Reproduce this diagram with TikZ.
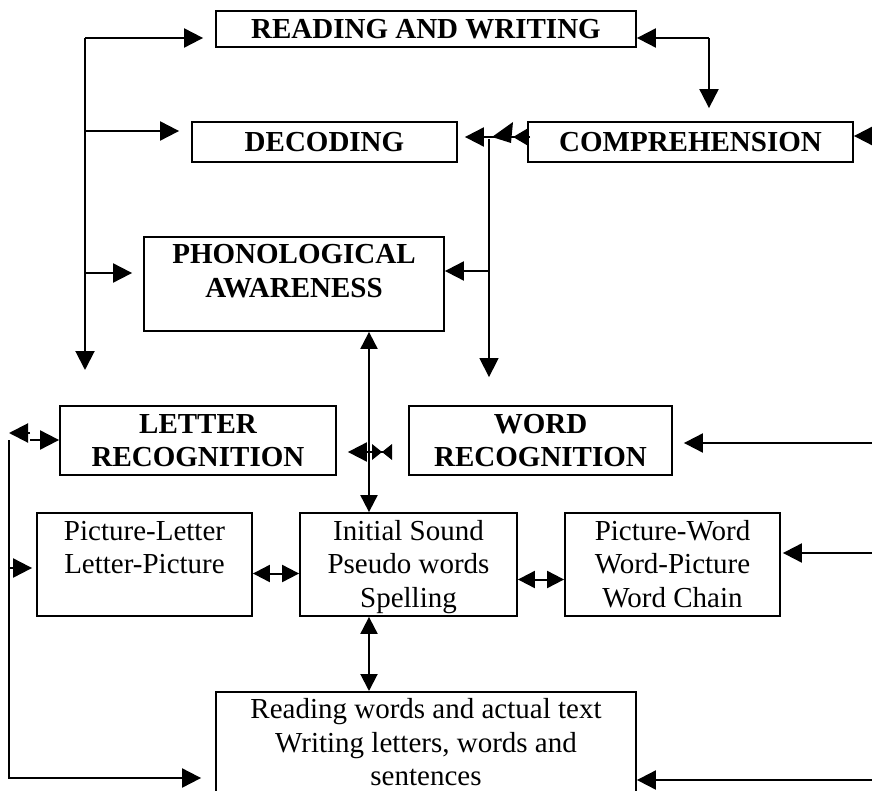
\documentclass[tikz,border=0pt]{standalone}
\usepackage{fontspec}
\setmainfont{Liberation Serif}
\usetikzlibrary{arrows.meta}
\newcommand{\topbox}[3]{\parbox[c][#2][t]{#1}{\centering\rule{0pt}{27pt}#3}}

\begin{document}
\begin{tikzpicture}[x=1pt, y=-1pt,
    box/.style={draw, line width=1.8pt, inner sep=0pt, align=center, font=\fontsize{29}{33.5}\selectfont},
    head/.style={box, font=\fontsize{29}{33.5}\selectfont\bfseries},
    link/.style={line width=2pt, -{Triangle[length=19pt,width=19pt]}},
    both/.style={line width=2pt, {Triangle[length=17pt,width=17pt]}-{Triangle[length=17pt,width=17pt]}},
    wire/.style={line width=2pt}]
  \useasboundingbox (0,0) rectangle (872,791);
  \clip (0,0) rectangle (872,791);

  % boxes
  \node[head, minimum width=420, minimum height=36] (rw) at (426,29) {READING AND WRITING};
  \node[head, minimum width=265, minimum height=40] (dec) at (324.5,142) {DECODING};
  \node[head, minimum width=325, minimum height=40] (comp) at (690.5,142) {COMPREHENSION};
  \node[head] (pa) at (294,284) {\topbox{300pt}{94pt}{PHONOLOGICAL\\AWARENESS}};
  \node[head, minimum width=276, minimum height=69] (lr) at (198,440.5) {LETTER\\RECOGNITION};
  \node[head, minimum width=263, minimum height=69] (wr) at (540.5,440.5) {WORD\\RECOGNITION};
  \node[box] (pl) at (144.5,564.5) {\topbox{215pt}{103pt}{Picture-Letter\\Letter-Picture}};
  \node[box] (is) at (408.5,564.5) {\topbox{217pt}{103pt}{Initial Sound\\Pseudo words\\Spelling}};
  \node[box] (pw) at (672.5,564.5) {\topbox{215pt}{103pt}{Picture-Word\\Word-Picture\\Word Chain}};
  \node[box, anchor=north] (rd) at (426,691) {\topbox{420pt}{130pt}{Reading words and actual text\\Writing letters, words and\\sentences}};

  % left trunk
  \coordinate (lt) at (85,38);
  \coordinate (ltd) at (85,131);
  \coordinate (ltp) at (85,273);
  \coordinate (ltend) at (85,370);
  \draw[link] (lt) -- (ltend);
  \draw[link] (lt) -- ([xshift=-12pt]lt -| rw.west);
  \draw[link] (ltd) -- ([xshift=-12pt]ltd -| dec.west);
  \draw[link] (ltp) -- ([xshift=-11pt]ltp -| pa.west);

  % reading and writing -- comprehension
  \coordinate (rc) at (709,38);
  \draw[link] (rc) -- (rc -| rw.east);
  \draw[link] (rc) -- ([yshift=13pt]rc |- comp.north);

  % decoding -- comprehension
  \coordinate (dc) at (489,137);
  \coordinate (dcp) at (489,271);
  \draw[link] (dc -| comp.west) -- ([xshift=7pt]dc -| dec.east);
  \draw[wire, -{Triangle[length=14pt,width=16pt]}] ([xshift=3pt]dc -| comp.west) -- ([xshift=-14pt]dc -| comp.west);
  \fill (492,137) -- (513,122) -- (511,143) -- cycle;
  \draw[link, line width=1.4pt] ([yshift=-2pt]dc) -- ([yshift=28pt]dc |- wr.north);
  \draw[link] (dcp) -- (dcp -| pa.east);

  % phonological awareness -- initial sound
  \draw[both] ([xshift=75pt]pa.south) -- ([xshift=75pt]pa.south |- is.north);

  % word recognition -- letter recognition
  \coordinate (lwr) at (392,452);
  \draw[link] (lwr) -- ([xshift=11pt]lwr -| lr.east);
  \fill (372,444) -- (382,452) -- (372,460) -- cycle;
  \fill (392,444) -- (382,452) -- (392,460) -- cycle;

  % left side
  \coordinate (lw) at (9,440);
  \coordinate (lpl) at (9,568);
  \coordinate (lb) at (9,778);
  \draw[link] ([xshift=21pt]lw) -- (lw -| lr.west);
  \draw[link] ([xshift=21pt,yshift=7pt]lw) -- ([yshift=7pt]lw);
  \draw[link] (lw) -- (lb) -- ([xshift=-14pt]lb -| rd.west);
  \draw[link] (lpl) -- ([xshift=-4pt]lpl -| pl.west);

  % middle row
  \draw[both] ([yshift=-9pt]pl.east) -- ([yshift=-9pt]pl.east -| is.west);
  \draw[both] ([yshift=-15pt]is.east) -- ([yshift=-15pt]is.east -| pw.west);
  \draw[both] ([xshift=-39.5pt]is.south) -- ([xshift=-39.5pt]is.south |- rd.north);

  % from the right
  \coordinate (cr) at (890,136);
  \coordinate (r1) at (890,443);
  \coordinate (r2) at (890,553);
  \coordinate (r3) at (890,780);
  \draw[link] (cr) -- (cr -| comp.east);
  \draw[link] (r1) -- ([xshift=11pt]r1 -| wr.east);
  \draw[link] (r2) -- ([xshift=2pt]r2 -| pw.east);
  \draw[link] (r3) -- (r3 -| rd.east);
\end{tikzpicture}
\end{document}
